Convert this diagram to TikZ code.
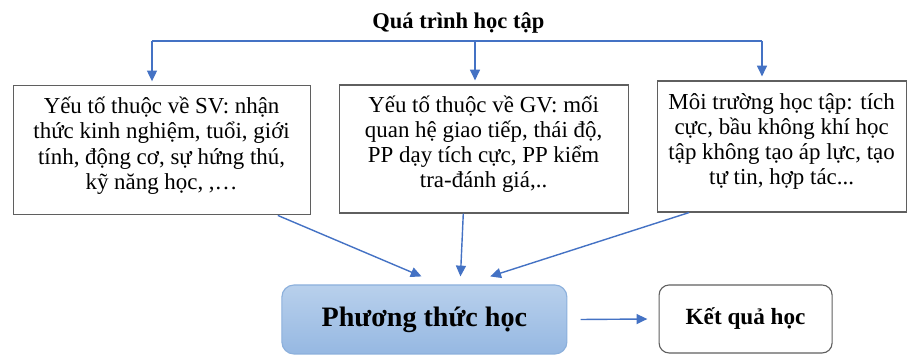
\documentclass[tikz,border=0pt]{standalone}
\usepackage{fontspec}
\setmainfont{Liberation Serif}
\usetikzlibrary{calc,positioning,arrows.meta}
\definecolor{arrblue}{RGB}{68,114,196}
\definecolor{boxgray}{RGB}{95,95,95}
\definecolor{ptmtop}{RGB}{184,208,236}
\definecolor{ptmbot}{RGB}{150,184,226}
\definecolor{ptmline}{RGB}{140,176,220}
\newcommand{\factorfont}{\fontsize{16.3}{17.8}\selectfont\lineskiplimit -10pt\relax}
\tikzstyle{factor} = [draw=boxgray, line width=0.8pt, rectangle, align=center,
    font=\factorfont, text depth=0.36cm]
\tikzstyle{method} = [draw=ptmline, line width=0.8pt, rectangle, rounded corners=0.3cm,
    top color=ptmtop, bottom color=ptmbot, minimum width=7.125cm, minimum height=1.725cm,
    font=\fontsize{20}{24}\selectfont\bfseries]
\tikzstyle{result} = [draw=boxgray, line width=0.8pt, rectangle, rounded corners=0.25cm,
    minimum width=4.325cm, minimum height=1.7cm, font=\fontsize{16.5}{20}\selectfont\bfseries]
\tikzstyle{arr} = [draw=arrblue, line width=1pt, -{Triangle[length=2.7mm,width=2.5mm]}]

\begin{document}
\begin{tikzpicture}
\useasboundingbox (0,0) rectangle (22.7,8.9);

\node (title) at (11.46,8.33) {\fontsize{16}{19}\selectfont\bfseries Quá trình học tập};

\node (sv) [factor, minimum width=7.425cm, minimum height=3.225cm] at (4.04,5.14)
    {Yếu tố thuộc về SV: nhận\\ thức kinh nghiệm, tuổi, giới\\ tính, động cơ, sự hứng thú,\\ kỹ năng học, ,…};
\node (gv) [factor, minimum width=7.225cm, minimum height=3.2cm] at (12.09,5.175)
    {Yếu tố thuộc về GV: mối\\ quan hệ giao tiếp, thái độ,\\ PP dạy tích cực, PP kiểm\\ tra-đánh giá,..};
\node (mt) [factor, minimum width=6.225cm, minimum height=3.275cm] at (19.54,5.2375)
    {Môi trường học tập: tích\\ cực, bầu không khí học\\ tập không tạo áp lực, tạo\\ tự tin, hợp tác...};

\node (ptm) [method] at (10.61,0.9125) {Phương thức học};
\node (kq) [result] at (18.64,0.925) {Kết quả học};

% branching bar under the title
\coordinate (b1) at (3.8,7.875);
\coordinate (b2) at (11.875,7.875);
\coordinate (b3) at (19.05,7.875);
\draw[arrblue, line width=0.9pt] (b1) -- (b3);
\draw[arr] (b1) -- ($(b1 |- sv.north)+(0,0.1)$);
\draw[arr] (b2) -- ($(b2 |- gv.north)+(0,0.1)$);
\draw[arr] (b3) -- ($(b3 |- mt.north)+(0,0.1)$);

% factors into the learning method
\draw[arr] ($(sv.south west)!0.89!(sv.south east)$) -- ($(ptm.north west)!0.49!(ptm.north east)+(0,0.2)$);
\draw[arr] ($(gv.south west)!0.43!(gv.south east)$) -- ($(ptm.north west)!0.626!(ptm.north east)+(0,0.2)$);
\draw[arr] ($(mt.south west)!0.13!(mt.south east)$) -- ($(ptm.north west)!0.73!(ptm.north east)+(0,0.2)$);
\draw[arr] ($(ptm.east)+(0.33,0)$) -- ($(kq.west)+(-0.28,0)$);

\end{tikzpicture}
\end{document}
